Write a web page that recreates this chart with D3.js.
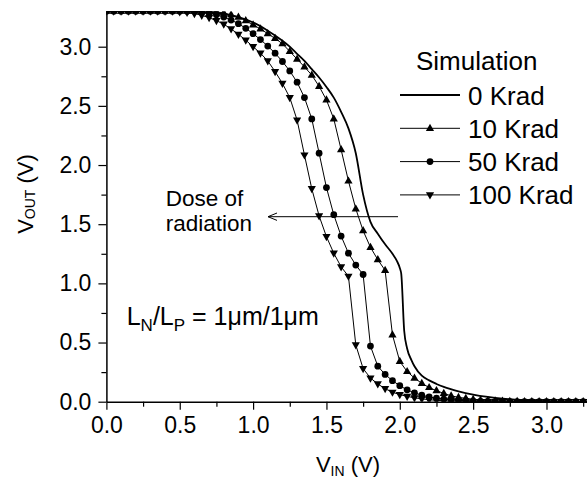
<!DOCTYPE html>
<html>
<head>
<meta charset="utf-8">
<script src="https://cdn.jsdelivr.net/npm/d3@7"></script>
<style>
  body { margin: 0; background: #fff; }
  svg { display: block; font-family: "Liberation Sans", Arial, sans-serif; }
</style>
</head>
<body>
<svg id="chart" width="587" height="478"></svg>
<script>
// input voltage grid shared by the marker series (V)
const vin = [0,0.05,0.1,0.15,0.2,0.25,0.3,0.35,0.4,0.45,0.5,0.55,0.6,0.65,0.7,0.75,0.8,0.85,0.9,0.95,
  1,1.05,1.1,1.15,1.2,1.25,1.3,1.35,1.4,1.45,1.5,1.55,1.6,1.65,1.7,1.75,1.8,1.85,1.9,1.95,
  2,2.05,2.1,2.15,2.2,2.25,2.3,2.35,2.4,2.45,2.5,2.55,2.6,2.65,2.7,2.75,2.8,2.85,2.9,2.95,
  3,3.05,3.1,3.15,3.2,3.25,3.3];

const vout10 = [3.3,3.3,3.3,3.3,3.3,3.3,3.3,3.3,3.3,3.3,3.3,3.3,3.3,3.3,3.3,
  3.295,3.285,3.27,3.25,3.22,3.185,3.15,3.11,3.07,3.025,2.96,2.895,2.83,2.76,2.665,2.55,2.39,2.13,1.865,
  1.63,1.445,1.305,1.2,1.11,0.565,0.34,0.255,0.2,0.155,0.12,0.093,0.07,0.05,0.037,0.028,0.02,0.014,
  0.01,0.007,0.005,0.003,0.002,0.001,0,0,0,0,0,0,0,0,0];

const vout50 = [3.3,3.3,3.3,3.3,3.3,3.3,3.3,3.3,3.3,3.3,3.3,3.3,3.3,
  3.295,3.285,3.27,3.25,3.225,3.195,3.155,3.11,3.06,3.005,2.945,2.875,2.795,2.7,2.57,2.39,2.1,1.81,
  1.58,1.4,1.255,1.155,1.075,0.47,0.3,0.23,0.178,0.135,0.1,0.075,0.055,0.04,0.03,0.022,0.016,0.011,
  0.008,0.005,0.003,0.002,0.001,0,0,0,0,0,0,0,0,0,0,0,0,0];

const vout100 = [3.3,3.3,3.3,3.3,3.3,3.3,3.3,3.3,3.3,3.3,
  3.295,3.29,3.28,3.265,3.245,3.22,3.19,3.15,3.105,3.055,3.0,2.945,2.88,2.79,2.69,2.57,2.38,2.085,
  1.8,1.57,1.395,1.255,1.14,1.06,0.48,0.28,0.2,0.15,0.11,0.08,0.06,0.045,0.033,0.024,0.017,0.012,
  0.008,0.005,0.003,0.002,0.001,0,0,0,0,0,0,0,0,0,0,0,0,0,0,0,0];

// 0 Krad is drawn as a plain line, with its own points
const vin0 = [0,0.2,0.4,0.5,0.6,0.7,0.8,0.9,1.0,1.1,1.2,1.25,1.3,1.35,1.4,1.45,1.5,1.55,1.6,1.65,
  1.7,1.75,1.8,1.85,1.9,1.95,1.98,2.0,2.01,2.03,2.05,2.08,2.1,2.15,2.2,2.25,2.3,2.4,2.5,2.6,
  2.7,2.8,2.9,3.0,3.15,3.3];
const vout0 = [3.3,3.3,3.3,3.3,3.298,3.29,3.275,3.25,3.205,3.135,3.05,3.0,2.94,2.88,2.81,2.74,2.66,2.57,2.45,2.31,
  2.1,1.75,1.52,1.42,1.33,1.25,1.19,1.13,1.08,0.6,0.45,0.35,0.3,0.22,0.18,0.15,0.125,0.088,0.06,0.04,
  0.025,0.015,0.008,0.004,0.001,0];

const legendLabels = ["0 Krad", "10 Krad", "50 Krad", "100 Krad"];
const majorTicks = [0, 0.5, 1.0, 1.5, 2.0, 2.5, 3.0];
const minorTicks = [0.25, 0.75, 1.25, 1.75, 2.25, 2.75, 3.25];

const svg = d3.select("#chart");
const plotLeft = 106.4, plotRight = 590.5, plotTop = 11.2, plotBottom = 401.7;

const x = d3.scaleLinear().domain([0, 3.3]).range([plotLeft, plotRight]);
const y = d3.scaleLinear().domain([0, 3.3]).range([plotBottom, plotTop]);

// marker shapes
const markers = {
  up: "M0,-4.6L4.1,2.6L-4.1,2.6Z",
  down: "M0,4.6L4.1,-2.6L-4.1,-2.6Z",
  circle: d3.symbol().type(d3.symbolCircle).size(36)()
};

svg.append("clipPath").attr("id", "plot")
  .append("rect")
  .attr("x", plotLeft).attr("y", plotTop)
  .attr("width", plotRight - plotLeft).attr("height", plotBottom - plotTop);

const plot = svg.append("g").attr("clip-path", "url(#plot)");

// 0 Krad solid curve
const smooth = d3.line().x(d => x(d[0])).y(d => y(d[1])).curve(d3.curveMonotoneX);
plot.append("path")
  .datum(vin0.map((v, i) => [v, vout0[i]]))
  .attr("d", smooth)
  .attr("fill", "none").attr("stroke", "#000").attr("stroke-width", 1.8);

const series = [
  { vals: vout10, shape: markers.up },
  { vals: vout50, shape: markers.circle },
  { vals: vout100, shape: markers.down }
];

const lin = d3.line().x(d => x(d[0])).y(d => y(d[1]));
series.forEach(s => {
  const pts = vin.map((v, i) => [v, s.vals[i]]);
  plot.append("path")
    .datum(pts)
    .attr("d", lin)
    .attr("fill", "none").attr("stroke", "#000").attr("stroke-width", 1);
  plot.selectAll(null)
    .data(pts)
    .enter()
    .append("path")
    .attr("d", s.shape)
    .attr("transform", d => "translate(" + x(d[0]) + "," + y(d[1]) + ")")
    .attr("fill", "#000");
});

// axes
const fmt = d3.format(".1f");
const xAxis = svg.append("g").attr("transform", "translate(0," + plotBottom + ")")
  .call(d3.axisBottom(x).tickValues(majorTicks).tickFormat(fmt).tickSize(8).tickSizeOuter(0).tickPadding(7));
xAxis.append("g").call(d3.axisBottom(x).tickValues(minorTicks).tickFormat("").tickSize(5).tickSizeOuter(0))
  .select(".domain").remove();

const yAxis = svg.append("g").attr("transform", "translate(" + plotLeft + ",0)")
  .call(d3.axisLeft(y).tickValues(majorTicks).tickFormat(fmt).tickSize(8).tickSizeOuter(0).tickPadding(7));
yAxis.append("g").call(d3.axisLeft(y).tickValues(minorTicks.slice(0, 6)).tickFormat("").tickSize(5).tickSizeOuter(0))
  .select(".domain").remove();

svg.selectAll(".domain").attr("stroke-width", 1.5);
svg.selectAll(".tick line").attr("stroke-width", 1.2);
svg.selectAll(".tick text").attr("font-size", 23).attr("font-family", "Liberation Sans, Arial, sans-serif").attr("fill", "#000");

// axis titles
const xt = svg.append("text").attr("x", 348).attr("y", 472)
  .attr("text-anchor", "middle").attr("font-size", 22);
xt.append("tspan").text("V");
xt.append("tspan").attr("font-size", 14).attr("dy", 4).text("IN");
xt.append("tspan").attr("dy", -4).text(" (V)");

const yt = svg.append("text").attr("transform", "translate(33,194) rotate(-90)")
  .attr("text-anchor", "middle").attr("font-size", 22);
yt.append("tspan").text("V");
yt.append("tspan").attr("font-size", 14).attr("dy", 2).text("OUT");
yt.append("tspan").attr("dy", -2).text(" (V)");

// legend
const lg = svg.append("g");
lg.append("text").attr("x", 416).attr("y", 70).attr("font-size", 26).text("Simulation");
const legendShapes = [null, markers.up, markers.circle, markers.down];
legendLabels.forEach((lab, i) => {
  const ly = 95 + i * 33.3;
  lg.append("line").attr("x1", 400).attr("x2", 460).attr("y1", ly).attr("y2", ly)
    .attr("stroke", "#000").attr("stroke-width", i === 0 ? 1.8 : 1);
  if (legendShapes[i]) {
    lg.append("path").attr("d", legendShapes[i])
      .attr("transform", "translate(430," + ly + ")").attr("fill", "#000");
  }
  lg.append("text").attr("x", 468).attr("y", ly + 9.5).attr("font-size", 26).text(lab);
});

// dose annotation
svg.append("text").attr("x", 165.7).attr("y", 205.5).attr("font-size", 22.5).text("Dose of");
svg.append("text").attr("x", 165.7).attr("y", 231).attr("font-size", 22.5).text("radiation");
svg.append("line").attr("x1", 398).attr("x2", 268).attr("y1", 216.7).attr("y2", 216.7)
  .attr("stroke", "#000").attr("stroke-width", 1);
svg.append("path").attr("d", "M277,213L268,216.7L277,220.4")
  .attr("fill", "none").attr("stroke", "#000").attr("stroke-width", 1);

// channel length note
const ln = svg.append("text").attr("x", 126.7).attr("y", 325).attr("font-size", 25);
ln.append("tspan").text("L");
ln.append("tspan").attr("font-size", 17).attr("dy", 6).text("N");
ln.append("tspan").attr("dy", -6).text("/L");
ln.append("tspan").attr("font-size", 17).attr("dy", 6).text("P");
ln.append("tspan").attr("dy", -6).text(" = 1\u03bcm/1\u03bcm");
</script>
</body>
</html>
